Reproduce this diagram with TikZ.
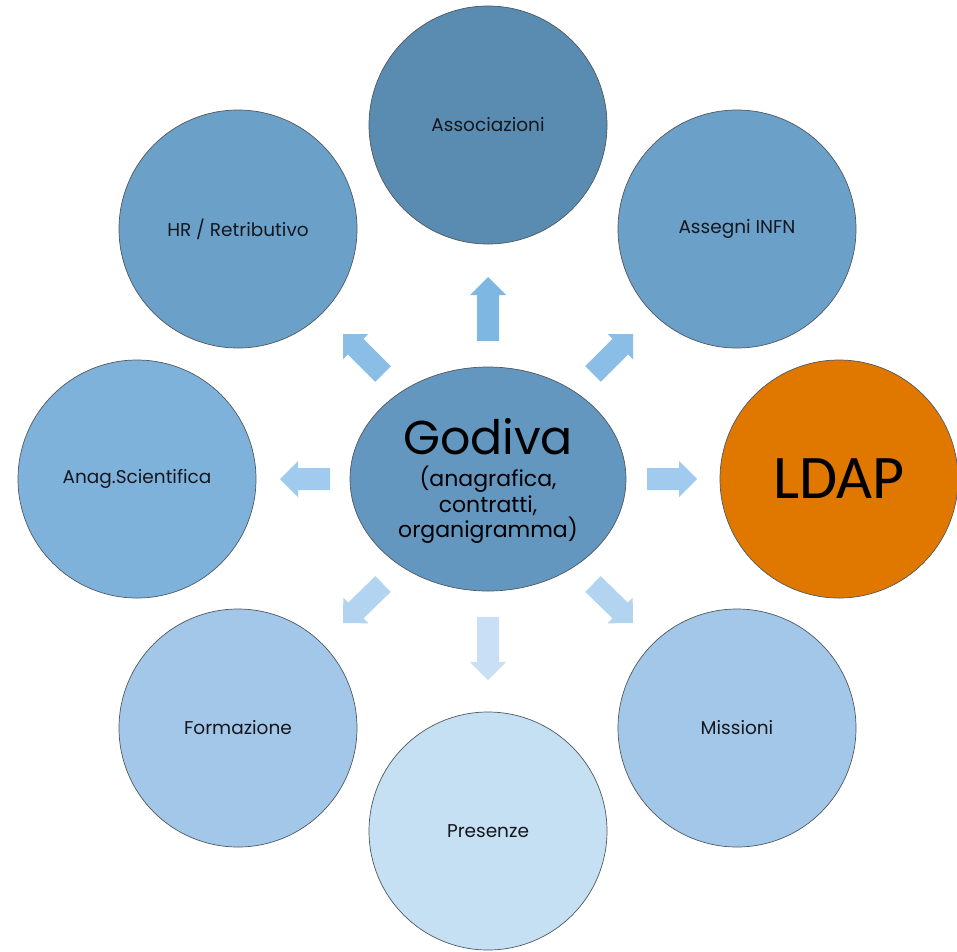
\documentclass[tikz,border=0pt]{standalone}
\usepackage{fontspec}
\setmainfont{Poppins}
\newfontfamily\ldapfont{Carlito}
\usetikzlibrary{calc,shapes.geometric}
\definecolor{cAss}{RGB}{90,139,176}
\definecolor{cHR}{RGB}{107,160,200}
\definecolor{cAna}{RGB}{127,178,218}
\definecolor{cFor}{RGB}{162,199,232}
\definecolor{cPre}{RGB}{197,223,243}
\definecolor{cGod}{RGB}{99,151,192}
\definecolor{cLdap}{RGB}{224,120,0}
\definecolor{cEdge}{RGB}{80,88,96}
\definecolor{cText}{RGB}{20,24,30}
\definecolor{aN}{RGB}{125,183,226}
\definecolor{aNE}{RGB}{139,190,230}
\definecolor{aE}{RGB}{160,202,238}
\definecolor{aSE}{RGB}{178,212,240}
\definecolor{aS}{RGB}{200,223,245}
\newcommand{\blockarrow}[3]{%
  \coordinate (hb) at ($(#3)!18pt!(#2)$);
  \fill[#1] ($(#2)!11pt!90:(#3)$) -- ($(hb)!11pt!90:(#3)$) -- ($(hb)!18pt!90:(#3)$)
    -- (#3) -- ($(hb)!18pt!-90:(#3)$) -- ($(hb)!11pt!-90:(#3)$) -- ($(#2)!11pt!-90:(#3)$) -- cycle;}
\tikzset{
  bubble/.style={circle, draw=cEdge, line width=0.7pt, minimum size=238pt, inner sep=0pt,
    font=\fontsize{18.5}{22}\selectfont, text=cText},
}
\begin{document}
\begin{tikzpicture}[x=1pt,y=-1pt]
\useasboundingbox (0,0) rectangle (957,951);
% circles
\node[bubble, fill=cAss] (ass) at (488,125) {Associazioni};
\node[bubble, fill=cHR] (asg) at (737,229) {Assegni INFN};
\node[bubble, fill=cLdap, text=black, font=\ldapfont\fontsize{62}{62}\selectfont] (ldap) at (839,479) {LDAP};
\node[bubble, fill=cFor] (mis) at (737,728) {Missioni};
\node[bubble, fill=cPre] (pre) at (488,831) {Presenze};
\node[bubble, fill=cFor] (for) at (238,728) {Formazione};
\node[bubble, fill=cAna] (ana) at (137,479) {Anag.Scientifica};
\node[bubble, fill=cHR] (hr) at (238,229) {HR / Retributivo};
% center
\node[ellipse, draw=cEdge, line width=0.7pt, fill=cGod, minimum width=276pt, minimum height=224pt, inner sep=0pt] (god) at (488,479) {};
\node[align=center, inner sep=0pt, text=black, font=\fontsize{22}{25.5}\selectfont] (godtxt) at (488,481)
  {{\fontsize{47.5}{47.5}\selectfont Godiva}\\[7pt]
   (anagrafica,\\ contratti,\\ organigramma)};
% arrows
\coordinate (tN) at (488,341);  \coordinate (pN) at (488,277);
\coordinate (tNE) at (593,374); \coordinate (pNE) at (633,334);
\coordinate (tE) at (647,479);  \coordinate (pE) at (697,479);
\coordinate (tSE) at (593,584); \coordinate (pSE) at (633,623);
\coordinate (tS) at (488,617);  \coordinate (pS) at (488,680);
\coordinate (tSW) at (383,584); \coordinate (pSW) at (343,623);
\coordinate (tW) at (330,479);  \coordinate (pW) at (280,479);
\coordinate (tNW) at (383,374); \coordinate (pNW) at (343,334);
\blockarrow{aN}{tN}{pN}
\blockarrow{aNE}{tNE}{pNE}
\blockarrow{aE}{tE}{pE}
\blockarrow{aSE}{tSE}{pSE}
\blockarrow{aS}{tS}{pS}
\blockarrow{aSE}{tSW}{pSW}
\blockarrow{aE}{tW}{pW}
\blockarrow{aNE}{tNW}{pNW}
\end{tikzpicture}
\end{document}
